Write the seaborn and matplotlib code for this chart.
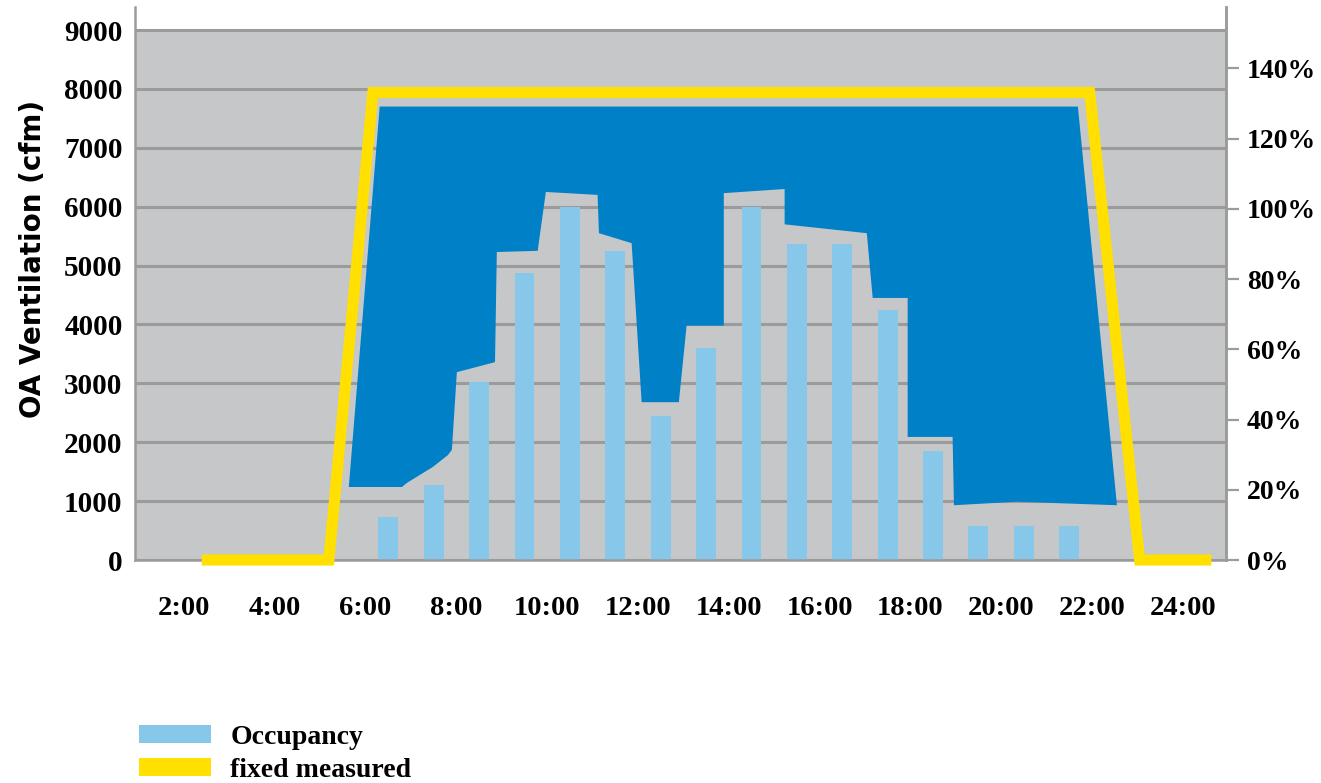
import matplotlib
matplotlib.use("Agg")
import matplotlib.pyplot as plt
from matplotlib.patches import Patch
import seaborn as sns

# occupancy bars (cfm equivalent), one per hour
occ_hours = [6.5, 7.5, 8.5, 9.5, 10.5, 11.5, 12.5, 13.5, 14.5, 15.5, 16.5, 17.5, 18.5, 19.5, 20.5, 21.5]
occupancy = [730, 1270, 3020, 4870, 6000, 5250, 2450, 3600, 6000, 5370, 5370, 4250, 1850, 580, 580, 580]

# fixed measured ventilation
fixed_hours = [2.39, 5.19, 6.16, 21.95, 23.05, 24.63]
fixed_cfm = [0, 0, 7940, 7940, 0, 0]

# demand controlled savings area: top edge and lower (demand) edge
top_hours = [6.31, 21.69]
top_cfm = [7700, 7700]
demand_hours = [5.63, 6.80, 6.91, 7.48, 7.81, 7.90, 8.01, 8.85, 8.89, 9.79, 9.97, 11.11, 11.14, 11.86,
                12.08, 12.90, 13.07, 13.89, 13.89, 15.23, 15.23, 17.04, 17.17, 17.94, 17.94, 18.93,
                18.96, 20.34, 22.55]
demand_cfm = [1240, 1240, 1310, 1580, 1780, 1870, 3190, 3360, 5230, 5250, 6250, 6200, 5550, 5380,
              2680, 2680, 3980, 3980, 6230, 6300, 5700, 5550, 4450, 4450, 2090, 2090,
              930, 990, 930]

x_ticks = [2, 4, 6, 8, 10, 12, 14, 16, 18, 20, 22, 24]
x_marks = [4, 6, 10, 12, 18, 20, 22, 24]
y_ticks = [0, 1000, 2000, 3000, 4000, 5000, 6000, 7000, 8000, 9000]
pct_ticks = [0, 20, 40, 60, 80, 100, 120, 140]

sns.set_theme(style="white")
plt.rcParams['font.family'] = ['Liberation Serif', 'DejaVu Serif']
plt.rcParams['text.color'] = 'black'
plt.rcParams['xtick.color'] = 'black'
plt.rcParams['ytick.color'] = 'black'
plt.rcParams['axes.labelcolor'] = 'black'

GRAY_BG = "#c6c7c9"
GRID = "#9b9b9b"
BLUE = "#0080c6"
LIGHT = "#87c8ea"
YELLOW = "#ffe000"

fig = plt.figure(figsize=(13.21, 7.83), dpi=100)
ax = fig.add_axes([0.1022, 0.2848, 0.8258, 0.7062])
ax.set_facecolor("white")

ax.axhspan(0, 9000, color=GRAY_BG, zorder=0, lw=0)
for v in y_ticks:
    ax.axhline(v, color=GRID, lw=2.2, zorder=0.5)

sns.barplot(x=occ_hours, y=occupancy, native_scale=True, color=LIGHT, saturation=1,
            width=0.44, linewidth=0, errorbar=None, ax=ax, zorder=2)

poly_x = top_hours + demand_hours[::-1]
poly_y = top_cfm + demand_cfm[::-1]
ax.fill(poly_x, poly_y, color=BLUE, lw=0, zorder=3)

sns.lineplot(x=fixed_hours, y=fixed_cfm, sort=False, color=YELLOW, lw=8, ax=ax,
             zorder=4, clip_on=False, solid_capstyle="butt", solid_joinstyle="miter")

ax.set_xlim(0.92, 24.95)
ax.set_ylim(0, 9390)

ax.spines["top"].set_visible(False)
for s in ["left", "right", "bottom"]:
    ax.spines[s].set_color(GRID)
    ax.spines[s].set_linewidth(1.8)

ax.set_xticks(x_ticks)
ax.set_xticklabels([f"{h}:00" for h in x_ticks], fontsize=20.5, fontweight="bold")
ax.set_xticks(x_marks, minor=True)
ax.tick_params(axis="x", which="major", length=0, pad=26)
ax.tick_params(axis="x", which="minor", length=14, width=1.6, color=GRID, bottom=True)
ax.set_yticks(y_ticks)
ax.set_yticklabels([str(v) for v in y_ticks], fontsize=21, fontweight="bold")
ax.tick_params(axis="y", length=0, pad=9)
ax.set_ylabel("OA Ventilation (cfm)", fontsize=20, fontweight="bold",
              family=["DejaVu Sans"])
ax.yaxis.set_label_coords(-0.081, 0.545)
ax.set_xlabel("")

ax2 = ax.twinx()
ax2.set_ylim(0, 9390 * 140 / 8350)
ax2.set_yticks(pct_ticks)
ax2.set_yticklabels([f"{p}%" for p in pct_ticks], fontsize=20, fontweight="bold")
ax2.tick_params(axis="y", length=9, width=1.6, color=GRID, pad=6, right=True)
for s in ["top", "left", "bottom"]:
    ax2.spines[s].set_visible(False)
ax2.spines["right"].set_color(GRID)
ax2.spines["right"].set_linewidth(1.8)
ax2.grid(False)

handles = [Patch(facecolor=LIGHT, edgecolor="none", label="Occupancy"),
           Patch(facecolor=YELLOW, edgecolor="none", label="fixed measured")]
fig.legend(handles=handles, loc="lower left", bbox_to_anchor=(0.105, 0.0),
           frameon=False, prop={"weight": "bold", "size": 20},
           handlelength=2.6, handleheight=0.6, handletextpad=0.7, labelspacing=0.3,
           borderpad=0, borderaxespad=0)

fig.savefig("out.png", dpi=100)
